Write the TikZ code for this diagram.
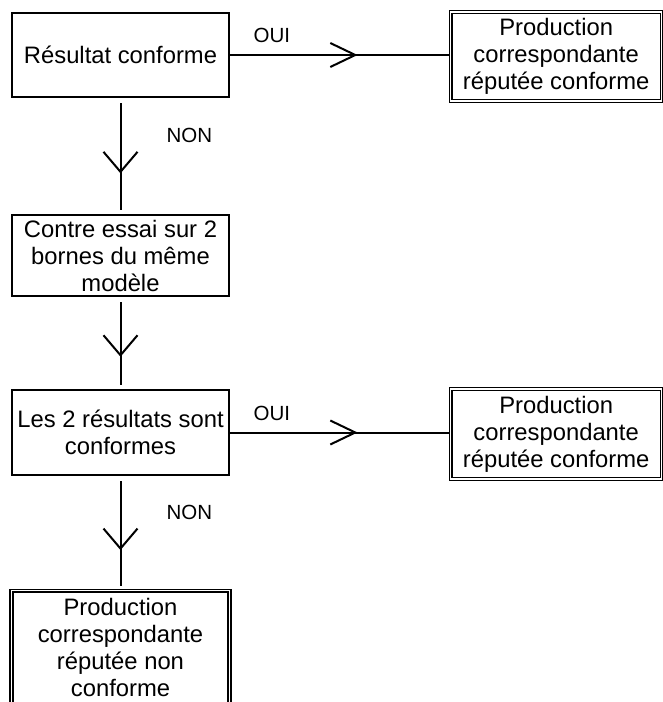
\documentclass[tikz,border=0pt]{standalone}
\usepackage{fontspec}
\setmainfont{Liberation Sans}
\usetikzlibrary{positioning}
\usetikzlibrary{arrows.meta}
\usetikzlibrary{decorations.markings}

\tikzset{
  box/.style={draw, line width=2pt, align=center, inner sep=2pt, minimum width=217pt, font=\fontsize{23.8pt}{27pt}\selectfont},
  endbox/.style={box, line width=1.3pt, double, double distance=1.6pt, minimum width=211pt},
  ouiline/.style={draw, line width=2pt, decoration={markings, mark=at position .58 with {\arrow{Straight Barb[length=25pt,width=24pt]}}}, postaction={decorate}},
  nonline/.style={draw, line width=2pt, shorten <=5pt, shorten >=4pt, decoration={markings, mark=at position .65 with {\arrow{Straight Barb[length=20pt,width=34pt]}}}, postaction={decorate}},
  lbl/.style={inner sep=0pt, font=\fontsize{20.5pt}{22pt}\selectfont}
}

\begin{document}
\begin{tikzpicture}

  \useasboundingbox (0pt,0pt) rectangle (662pt,-702pt);

  % Decision boxes
  \node[box, minimum height=84pt] (res) at (120.5pt,-55pt) {R\'esultat conforme};
  \node[box, minimum height=81pt, below=116pt of res] (contre) {Contre essai sur 2\\bornes du m\^eme\\mod\`ele};
  \node[box, minimum height=85pt, below=92pt of contre] (both) {Les 2 r\'esultats sont\\conformes};
  % Outcome boxes
  \node[endbox, minimum height=89pt, right=220pt of res, yshift=-1.5pt] (okA) {Production\\correspondante\\r\'eput\'ee conforme};
  \node[endbox, minimum height=90pt, right=220pt of both, yshift=-1.5pt] (okB) {Production\\correspondante\\r\'eput\'ee conforme};
  \node[endbox, minimum width=218pt, minimum height=114pt, below=114pt of both] (fail) {Production\\correspondante\\r\'eput\'ee non\\conforme};

  % OUI connections
  \path[ouiline] (res.east) to node[lbl, pos=.19, above=11pt] (ouiA) {OUI} (res.east -| okA.west);
  \path[ouiline] (both.east) to node[lbl, pos=.19, above=11pt] (ouiB) {OUI} (both.east -| okB.west);
  % NON connections
  \path[nonline] (res) to node[lbl, pos=.32, right=45pt] (nonA) {NON} (contre);
  \path[nonline] (contre) to (both);
  \path[nonline] (both) to node[lbl, pos=.32, right=45pt] (nonB) {NON} (fail);

\end{tikzpicture}
\end{document}
